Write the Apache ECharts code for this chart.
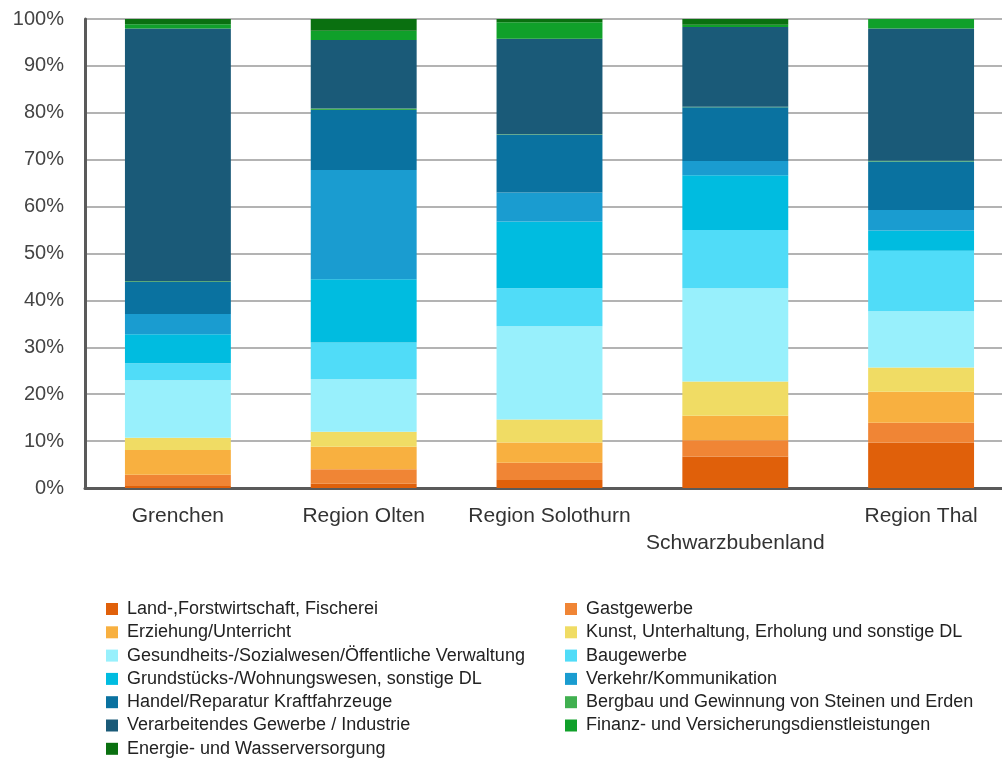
<!DOCTYPE html>
<html><head><meta charset="utf-8">
<script src="https://cdn.jsdelivr.net/npm/echarts@6/dist/echarts.min.js"></script>
<style>html,body{margin:0;padding:0;background:#fff}#c{width:1002px;height:760px}</style>
</head><body><div id="c"></div>
<script>
const categories = ['Grenchen', 'Region Olten', 'Region Solothurn', 'Schwarzbubenland', 'Region Thal'];
const yTicks = ['0%','10%','20%','30%','40%','50%','60%','70%','80%','90%','100%'];

const seriesNames = [
  'Land-,Forstwirtschaft, Fischerei',
  'Gastgewerbe',
  'Erziehung/Unterricht',
  'Kunst, Unterhaltung, Erholung und sonstige DL',
  'Gesundheits-/Sozialwesen/Öffentliche Verwaltung',
  'Baugewerbe',
  'Grundstücks-/Wohnungswesen, sonstige DL',
  'Verkehr/Kommunikation',
  'Handel/Reparatur Kraftfahrzeuge',
  'Bergbau und Gewinnung von Steinen und Erden',
  'Verarbeitendes Gewerbe / Industrie',
  'Finanz- und Versicherungsdienstleistungen',
  'Energie- und Wasserversorgung'
];

const land        = [0.4, 0.9, 1.7, 6.7, 9.7];
const gast        = [2.4, 3.1, 3.7, 3.5, 4.2];
const erziehung   = [5.3, 4.8, 4.3, 5.2, 6.6];
const kunst       = [2.6, 3.2, 4.9, 7.3, 5.2];
const gesundheit  = [12.3, 11.2, 19.9, 19.9, 12.0];
const bau         = [3.6, 7.8, 8.1, 12.4, 12.9];
const grundstueck = [6.2, 13.5, 14.2, 11.7, 4.3];
const verkehr     = [4.3, 23.3, 6.2, 3.0, 4.4];
const handel      = [6.8, 12.8, 12.3, 11.5, 10.3];
const bergbau     = [0.2, 0.3, 0.1, 0.1, 0.2];
const industrie   = [53.9, 14.6, 20.4, 17.0, 28.2];
const finanz      = [0.9, 2.0, 3.5, 0.5, 2.0];
const energie     = [1.1, 2.5, 0.7, 1.2, 0.0];

const seriesValues = [land, gast, erziehung, kunst, gesundheit, bau, grundstueck, verkehr, handel, bergbau, industrie, finanz, energie];
const colors = ['#e0600a','#f08535','#f8b040','#f0dc64','#98f0fc','#50dcf8','#00bce0','#1a9cd0','#0a72a0','#40b050','#1a5a78','#10a02a','#0a7010'];

const legendLeft = [seriesNames[0], seriesNames[2], seriesNames[4], seriesNames[6], seriesNames[8], seriesNames[10], seriesNames[12]];
const legendRight = [seriesNames[1], seriesNames[3], seriesNames[5], seriesNames[7], seriesNames[9], seriesNames[11]];

const chart = echarts.init(document.getElementById('c'), null, {renderer: 'canvas'});
const legendBase = {
  orient: 'vertical', top: 600, height: 170, itemWidth: 12, itemHeight: 12, itemGap: 5.3,
  icon: 'rect', selectedMode: false, padding: 0,
  textStyle: {fontFamily: 'Liberation Sans', fontSize: 18, lineHeight: 18, color: '#222', padding: [0,0,0,4]}
};
chart.setOption({
  animation: false,
  color: colors,
  grid: {left: 85, top: 19, bottom: 272, width: 929, containLabel: false, outerBoundsMode: 'none'},
  legend: [
    Object.assign({}, legendBase, {left: 106, data: legendLeft}),
    Object.assign({}, legendBase, {left: 565, data: legendRight})
  ],
  xAxis: {
    type: 'category', data: categories,
    axisLine: {lineStyle: {color: '#5a5a5a', width: 3}},
    axisTick: {show: false},
    axisLabel: {
      fontFamily: 'Liberation Sans', fontSize: 21, color: '#333', margin: 15, lineHeight: 27,
      interval: 0,
      formatter: v => v === 'Schwarzbubenland' ? '\n' + v : v
    }
  },
  yAxis: {
    type: 'value', min: 0, max: 100, interval: 10,
    axisLine: {show: true, lineStyle: {color: '#5a5a5a', width: 3}},
    axisTick: {show: false},
    splitLine: {lineStyle: {color: '#9a9a9a', width: 1.5}},
    axisLabel: {
      fontFamily: 'Liberation Sans', fontSize: 20, color: '#444', margin: 21,
      formatter: (v) => yTicks[Math.round(v / 10)]
    }
  },
  series: seriesNames.map((name, i) => ({
    name, type: 'bar', stack: 'total', barWidth: '57%',
    data: seriesValues[i],
    itemStyle: {color: colors[i]}
  }))
});
</script></body></html>
